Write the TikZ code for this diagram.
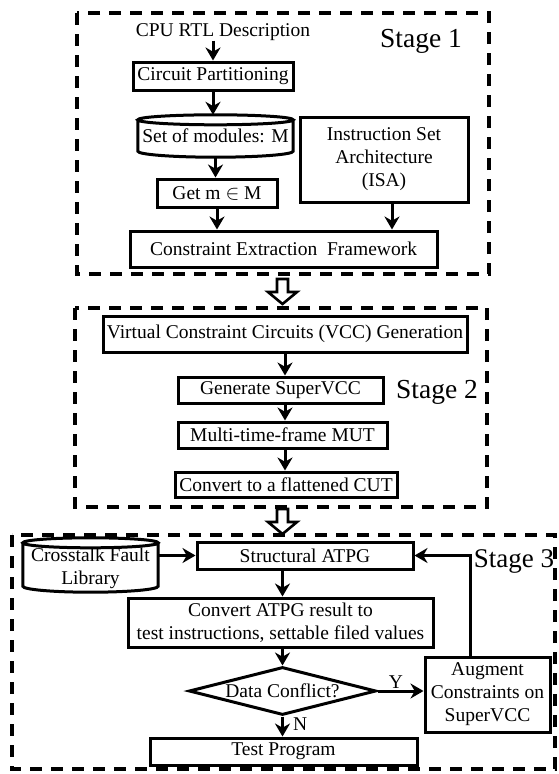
\documentclass[tikz,border=0pt]{standalone}
\usepackage{fontspec}
\setmainfont{Liberation Serif}
\usetikzlibrary{arrows.meta, shapes.geometric, calc}

\newcommand{\txtsize}{\fontsize{19.5}{23}\selectfont}
\newcommand{\stagesize}{\fontsize{27.5}{32}\selectfont}
% drum outline round a named node, #1 = room kept above it
\newcommand{\drum}[2][0pt]{%
\draw[line width=3pt] let \p1=($(#2.north east)-(#2.north west)$) in
  ([yshift=#1-5pt]#2.north) ellipse [x radius=0.5*\x1, y radius=5pt]
  ([yshift=#1-5pt]#2.north west) -- ([yshift=6pt]#2.south west)
  arc[start angle=180, end angle=360, x radius=0.5*\x1, y radius=6pt]
  -- ([yshift=#1-5pt]#2.north east);}

\begin{document}
\begin{tikzpicture}[x=1pt, y=-1pt,
  box/.style={draw, line width=3pt, inner sep=0pt, align=center, font=\txtsize},
  plain/.style={inner sep=0pt, align=center, font=\txtsize},
  stagelabel/.style={inner sep=0pt, font=\stagesize},
  flow/.style={line width=3pt, -{Stealth[length=13pt,width=15pt]}},
  stageframe/.style={line width=3.6pt, dash pattern=on 12pt off 9pt},
  hollow/.style={line width=2.6pt, line join=miter}]
\useasboundingbox (0,0) rectangle (558,774);

% Stage 1
\draw[stageframe] (77,13) rectangle (489,274);
\node[stagelabel] (s1) at (421,41) {Stage 1};
\node[plain] (cpu) at (223,32) {CPU RTL Description};
\node[box, minimum width=160, minimum height=28] (part) at (213,76) {Circuit Partitioning};
\node[plain, minimum width=155, minimum height=42] (mods) at (215.5,136) {Set of modules: M};
\drum{mods}
\node[box, minimum width=120, minimum height=28] (get) at (217,193) {Get m $\in$ M};
\node[box, minimum width=168, minimum height=85] (isa) at (384,159.5) {Instruction Set\\Architecture\\(ISA)};
\node[box, minimum width=307, minimum height=36] (cef) at (283.5,249) {Constraint Extraction\ \ Framework};

\draw[flow] (part.north |- cpu.south) -- (part.north);
\draw[flow] (part.south) -- (part.south |- mods.north);
\draw[flow] (mods.south) -- (mods.south |- get.north);
\draw[flow] (get.south) -- (get.south |- cef.north);
\draw[flow] ([xshift=8pt]isa.south) -- ([xshift=8pt]isa.south |- cef.north);

% between the stages
\foreach \y in {279,509}
  \draw[hollow] (277,\y) -- (288,\y) -- (288,\y+13) -- (297,\y+13) -- (282.5,\y+25)
    -- (268,\y+13) -- (277,\y+13) -- cycle;

% Stage 2
\draw[stageframe] (75,308) rectangle (487,507);
\node[stagelabel] (s2) at (437,392) {Stage 2};
\node[box, minimum width=364, minimum height=36] (vcc) at (285,334) {Virtual Constraint Circuits (VCC) Generation};
\node[box, minimum width=205, minimum height=26] (gen) at (280.5,390) {Generate SuperVCC};
\node[box, minimum width=209, minimum height=26] (mtf) at (282.5,435) {Multi-time-frame MUT};
\node[box, minimum width=222, minimum height=25] (flat) at (286,484.5) {Convert to a flattened CUT};

\draw[flow] (vcc.south) -- (vcc.south |- gen.north);
\draw[flow] (vcc.south |- gen.south) -- (vcc.south |- mtf.north);
\draw[flow] (vcc.south |- mtf.south) -- (vcc.south |- flat.north);

% Stage 3
\draw[stageframe] (12,535) rectangle (555,769);
\node[stagelabel, font=\fontsize{27}{32}\selectfont] (s3) at (514,561) {Stage 3};
\node[plain, minimum width=135, minimum height=48] (lib) at (90.5,568) {Crosstalk Fault\\Library};
\drum[6pt]{lib}
\node[box, minimum width=216, minimum height=27] (atpg) at (305,555.5) {Structural ATPG};
\node[box, minimum width=305, minimum height=49] (conv) at (280.5,622.5) {Convert ATPG result to\\test instructions, settable filed values};
\node[draw, diamond, line width=3pt, inner sep=0pt, aspect=3.6, minimum width=187, minimum height=48,
  font=\txtsize] (dec) at (282.5,691) {Data Conflict?};
\node[box, minimum width=125, minimum height=75] (aug) at (487.5,694.5) {Augment\\Constraints on\\SuperVCC};
\node[box, minimum width=267, minimum height=27] (prog) at (283.5,751.5) {Test Program};

\draw[flow] (lib.east |- atpg.west) -- (atpg.west);
\draw[flow] (dec.north |- atpg.south) -- (dec.north |- conv.north);
\draw[flow] (dec.north |- conv.south) -- (dec.north);
\draw[flow] (dec.east) -- (aug.west |- dec.east) node[pos=0.4, above, plain, yshift=1pt] (yes) {Y};
\draw[flow] (dec.south) -- (dec.south |- prog.north) node[pos=0.4, right, plain, xshift=9pt] (no) {N};
\draw[flow] ([xshift=-17pt]aug.north) |- (atpg.east);
\end{tikzpicture}
\end{document}
